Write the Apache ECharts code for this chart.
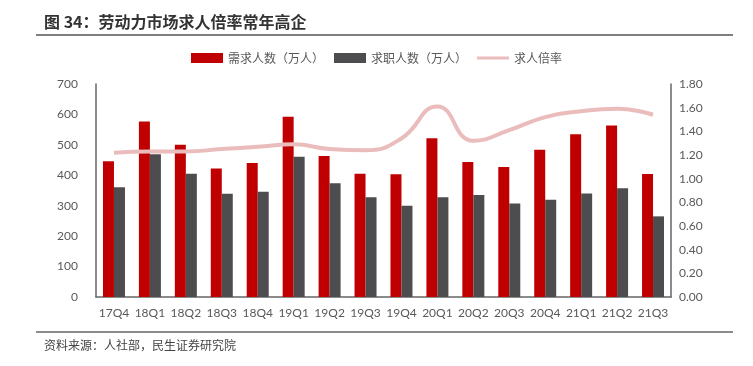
<!DOCTYPE html>
<html>
<head>
<meta charset="utf-8">
<script src="https://cdn.jsdelivr.net/npm/echarts@6/dist/echarts.min.js"></script>
<style>
    html, body {margin: 0; padding: 0; background: #fff;}
    #main {width: 753px; height: 366px;}
</style>
</head>
<body>
<div id="main"></div>
<script>
var quarters = ['17Q4', '18Q1', '18Q2', '18Q3', '18Q4', '19Q1', '19Q2', '19Q3',
    '19Q4', '20Q1', '20Q2', '20Q3', '20Q4', '21Q1', '21Q2', '21Q3'];
// 需求人数（万人）
var demand = [446, 577, 500, 422, 440, 592, 463, 405, 403, 522, 444, 427, 484, 535, 564, 404];
// 求职人数（万人）
var seekers = [361, 469, 405, 339, 346, 461, 374, 328, 300, 328, 335, 307, 320, 340, 357, 265];
// 求人倍率
var ratio = [1.22, 1.23, 1.23, 1.25, 1.27, 1.29, 1.25, 1.24, 1.34, 1.61, 1.32, 1.41, 1.52, 1.57, 1.59, 1.54];
var leftTicks = {min: 0, max: 700, interval: 100};
var rightTicks = {min: 0, max: 1.8, interval: 0.2};

(function () {
    var chart = echarts.init(document.getElementById('main'));
    var cjk = '"Noto Sans CJK SC", sans-serif';
    var option = {
        backgroundColor: '#fff',
        animation: false,
        textStyle: {fontFamily: cjk},
        graphic: [
            {   // 标题
                type: 'text', left: 44, top: 14,
                style: {text: '图 34：劳动力市场求人倍率常年高企', fontSize: 16, fontWeight: 'bold',
                    fill: '#333', fontFamily: cjk}
            },
            {type: 'line', shape: {x1: 36, y1: 35, x2: 733, y2: 35}, style: {stroke: '#555', lineWidth: 1.5}},
            {type: 'line', shape: {x1: 36, y1: 332, x2: 733, y2: 332}, style: {stroke: '#666', lineWidth: 1.5}},
            {   // 资料来源
                type: 'text', left: 44, top: 339,
                style: {text: '资料来源：人社部，民生证券研究院', fontSize: 12, fill: '#444', fontFamily: cjk}
            }
        ],
        legend: {
            top: 47,
            left: 'center',
            itemWidth: 32,
            itemHeight: 10,
            itemGap: 10,
            textStyle: {fontSize: 12, color: '#595959'},
            data: [
                {name: '需求人数（万人）', icon: 'rect'},
                {name: '求职人数（万人）', icon: 'rect'},
                {name: '求人倍率', icon: 'path://M0,0h32v3h-32z'}
            ]
        },
        grid: {left: 96, right: 82, top: 84, bottom: 69},
        xAxis: {
            type: 'category',
            data: quarters,
            axisLine: {lineStyle: {color: '#666', width: 1.5}},
            axisTick: {show: false},
            axisLabel: {color: '#595959', fontSize: 12, margin: 10, interval: 0, fontFamily: 'Lato, sans-serif'}
        },
        yAxis: [
            {
                type: 'value',
                min: leftTicks.min, max: leftTicks.max, interval: leftTicks.interval,
                splitLine: {show: false},
                axisLine: {show: true, lineStyle: {color: '#666', width: 1.5}},
                axisTick: {show: false},
                axisLabel: {color: '#595959', fontSize: 12, margin: 18, fontFamily: 'Lato, sans-serif'}
            },
            {
                type: 'value',
                min: rightTicks.min, max: rightTicks.max, interval: rightTicks.interval,
                splitLine: {show: false},
                axisLine: {show: true, lineStyle: {color: '#666', width: 1.5}},
                axisTick: {show: false},
                axisLabel: {color: '#595959', fontSize: 12, margin: 8, fontFamily: 'Lato, sans-serif',
                    formatter: function (v) { return v.toFixed(2); }}
            }
        ],
        series: [
            {
                name: '需求人数（万人）',
                type: 'bar',
                barWidth: 11,
                barGap: '0%',
                itemStyle: {color: '#c00000'},
                data: demand
            },
            {
                name: '求职人数（万人）',
                type: 'bar',
                barWidth: 11,
                itemStyle: {color: '#4d4d4f'},
                data: seekers
            },
            {
                name: '求人倍率',
                type: 'line',
                yAxisIndex: 1,
                smooth: 0.5,
                showSymbol: false,
                symbol: 'none',
                lineStyle: {color: '#ebbcbc', width: 4},
                itemStyle: {color: '#ebbcbc'},
                data: ratio
            }
        ]
    };
    chart.setOption(option);
    window.addEventListener('resize', function () {
        chart.resize();
    });
}());
</script>
</body>
</html>
